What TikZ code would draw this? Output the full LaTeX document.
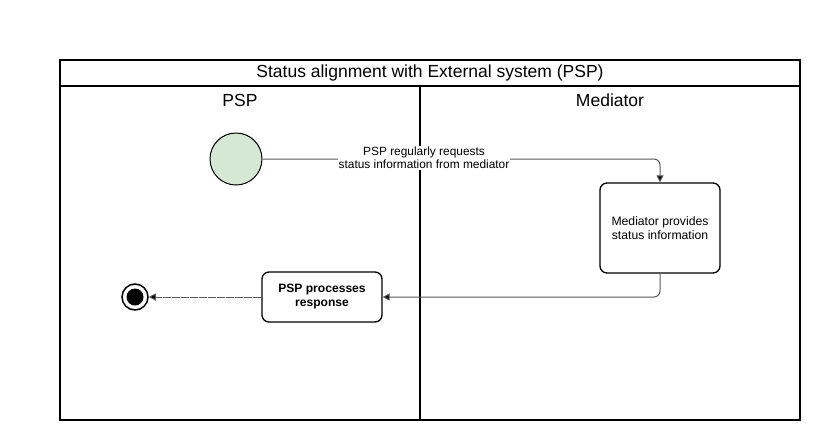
\documentclass[tikz,border=0pt]{standalone}
\usepackage{fontspec}
\setmainfont{Liberation Sans}
\usetikzlibrary{arrows.meta}
\begin{document}
\begin{tikzpicture}[x=1pt,y=-1pt,
  lane/.style={draw=black,line width=1.2pt},
  hdr/.style={font=\fontsize{17.5}{20}\selectfont},
  actbox/.style={draw=black,line width=1.3pt,rounded corners=7pt,align=center,font=\fontsize{12.2}{14}\selectfont},
  conn/.style={draw=black!65,line width=1pt,rounded corners=6pt,-{Triangle[length=7pt,width=7pt,fill=black]}},
  lbl/.style={font=\fontsize{11.9}{13}\selectfont,align=center,fill=white,inner sep=1pt}]
\useasboundingbox (0,0) rectangle (822,440);
\fill[white] (0,0) rectangle (822,440);
% pool
\draw[lane] (60,60) rectangle (800,420);
\draw[lane] (60,86) -- (800,86);
\draw[lane] (420,86) -- (420,420);
\node[hdr] (title) at (430,73) {Status alignment with External system (PSP)};
\node[hdr] (psp) at (240,100) {PSP};
\node[hdr] (med) at (610,100) {Mediator};
% nodes
\node[circle,draw=black,line width=1pt,minimum size=52pt,inner sep=0pt,fill={rgb,255:red,213;green,232;blue,212}] (start) at (236,159) {};
\node[actbox,minimum width=120pt,minimum height=90pt] (mp) at (660,228) {Mediator provides\\status information};
\node[actbox,minimum width=120pt,minimum height=50pt,font=\bfseries\fontsize{12.1}{14}\selectfont] (pp) at (322,297) {PSP processes\\response};
\node[circle,draw=black,line width=1.5pt,minimum size=26pt,inner sep=0pt] (endo) at (135,297) {};
\node[circle,fill=black,minimum size=17pt,inner sep=0pt] (endi) at (135,297) {};
% connectors
\coordinate (c1) at (660,159);
\draw[conn] (start.east) -- (c1) -- (mp.north);
\node[lbl] (l1) at (424,158) {PSP regularly requests\\status information from mediator};
\coordinate (c2) at (660,297);
\draw[conn] (mp.south) -- (c2) -- (pp.east);
\draw[conn,dash pattern=on 8pt off 1pt] (pp.west) -- (endo.east);
\end{tikzpicture}
\end{document}
